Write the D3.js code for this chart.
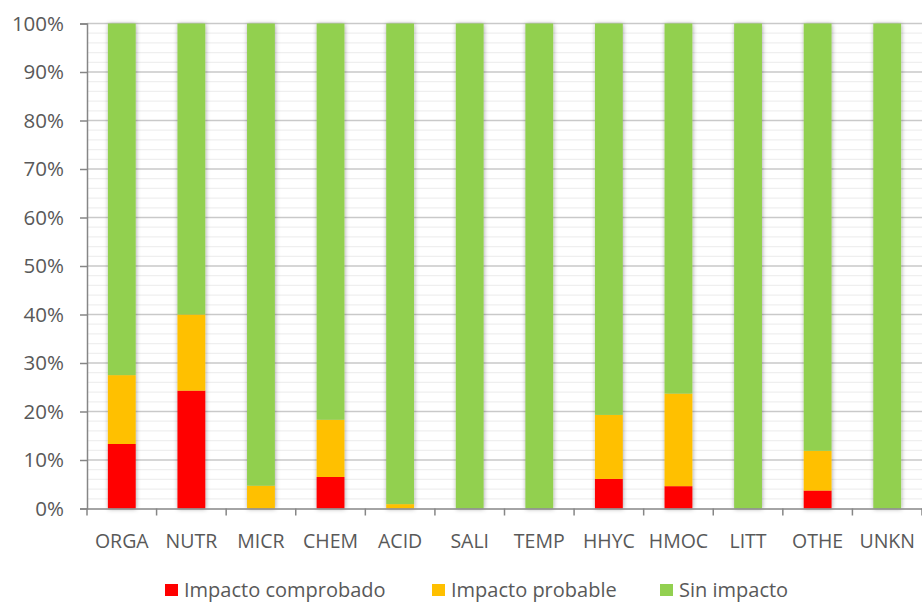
<!DOCTYPE html>
<html><head><meta charset="utf-8">
<script src="https://cdn.jsdelivr.net/npm/d3@7"></script>
<style>body{margin:0;background:#fff;} svg{display:block;font-family:"Open Sans",sans-serif;}</style>
</head><body><svg id="c" width="922" height="602"></svg>
<script>
const categories = ["ORGA","NUTR","MICR","CHEM","ACID","SALI","TEMP","HHYC","HMOC","LITT","OTHE","UNKN"];
const comprobado = [13.3, 24.3, 0, 6.5, 0, 0, 0, 6.1, 4.6, 0, 3.7, 0];
const probable   = [14.2, 15.7, 4.7, 11.8, 0.9, 0, 0, 13.2, 19.1, 0, 8.2, 0];
const sinImpacto = [72.5, 60.0, 95.3, 81.7, 99.1, 100, 100, 80.7, 76.3, 100, 88.1, 100];
const seriesNames = ["Impacto comprobado","Impacto probable","Sin impacto"];
const seriesColors = ["#ff0000","#ffc000","#92d050"];
const yTicks = [0,10,20,30,40,50,60,70,80,90,100];

const svg = d3.select("#c");
const x = d3.scaleBand().domain(categories).range([87, 922]).paddingInner(0.6).paddingOuter(0.3);
const y = d3.scaleLinear().domain([0,100]).range([508.5, 23.5]);

const defs = svg.append("defs");
const f = defs.append("filter").attr("id","sh").attr("x","-50%").attr("y","-10%").attr("width","200%").attr("height","120%");
f.append("feDropShadow").attr("dx",0.5).attr("dy",0.5).attr("stdDeviation",2).attr("flood-color","#000").attr("flood-opacity",0.35);

// minor gridlines
const minor = d3.range(2,100,2).filter(v => v % 10 !== 0);
svg.append("g").selectAll("line").data(minor).join("line")
  .attr("x1",87).attr("x2",922).attr("y1",d=>y(d)).attr("y2",d=>y(d))
  .attr("stroke","#efefef").attr("stroke-width",1.2);
// major gridlines
svg.append("g").selectAll("line").data(yTicks.slice(1)).join("line")
  .attr("x1",87).attr("x2",922).attr("y1",d=>y(d)).attr("y2",d=>y(d))
  .attr("stroke","#c9c9c9").attr("stroke-width",1.3);

// stacked bars
const rows = categories.map((c,i)=>({cat:c, a:comprobado[i], b:probable[i], c:sinImpacto[i]}));
const stack = d3.stack().keys(["a","b","c"])(rows);
const bars = svg.append("g").attr("filter","url(#sh)");
stack.forEach((layer,k)=>{
  bars.append("g").attr("fill",seriesColors[k]).selectAll("rect").data(layer).join("rect")
    .attr("x",d=>x(d.data.cat)).attr("width",x.bandwidth())
    .attr("y",d=>y(d[1])).attr("height",d=>Math.max(0,y(d[0])-y(d[1])));
});

// y axis
const ya = svg.append("g").attr("transform","translate(87,0)")
  .call(d3.axisLeft(y).tickValues(yTicks).tickFormat(d=>d+"%").tickSize(7).tickPadding(16));
ya.select(".domain").attr("stroke","#868686").attr("stroke-width",1.5);
ya.selectAll(".tick line").attr("stroke","#868686").attr("stroke-width",1.5);
ya.selectAll("text").attr("fill","#595959").attr("font-size",20.5).attr("font-family","Open Sans");

// x axis
const xa = svg.append("g").attr("transform","translate(0,508.5)")
  .call(d3.axisBottom(x).tickSize(0));
xa.select(".domain").attr("stroke","#868686").attr("stroke-width",1.5);
xa.selectAll("text").attr("fill","#595959").attr("font-size",19.5).attr("font-family","Open Sans").attr("y",39).attr("dy",0);
const bounds = d3.range(categories.length+1).map(i=>87 + i*x.step());
xa.append("g").selectAll("line").data(bounds).join("line")
  .attr("x1",d=>d).attr("x2",d=>d).attr("y1",0).attr("y2",7)
  .attr("stroke","#868686").attr("stroke-width",1.5);

// legend
const legendX = [165, 432, 660];
const lg = svg.append("g");
seriesNames.forEach((n,i)=>{
  lg.append("rect").attr("x",legendX[i]).attr("y",584).attr("width",13).attr("height",12).attr("fill",seriesColors[i]);
  lg.append("text").attr("x",legendX[i]+19).attr("y",597).attr("fill","#595959").attr("font-size",20).text(n);
});
</script></body></html>
